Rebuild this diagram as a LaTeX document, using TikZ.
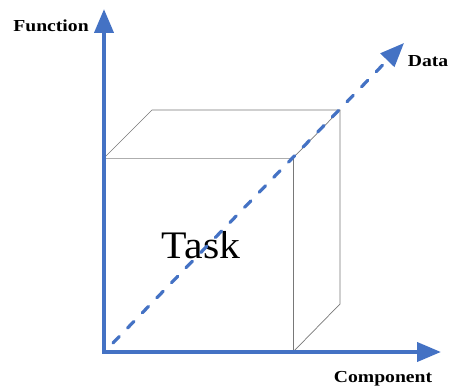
\documentclass[tikz,border=0pt]{standalone}
\usepackage{fontspec}
\setmainfont{Liberation Serif}
\newfontfamily\lblfont[FakeStretch=1.17]{Liberation Serif}
\newfontfamily\taskfont[FakeStretch=1.07]{Liberation Serif}
\usetikzlibrary{arrows.meta,calc}
\definecolor{axisblue}{RGB}{68,114,196}
\definecolor{cubegray}{RGB}{120,120,120}
\begin{document}
\begin{tikzpicture}[x=1pt,y=-1pt,
  axis/.style={line width=4pt,draw=axisblue,-{Triangle[length=24pt,width=19pt]}},
  datadash/.style={line width=3.2pt,draw=axisblue,line cap=round,dash pattern=on 9pt off 12pt,-{Triangle[length=24pt,width=19pt]}},
  edge/.style={draw=cubegray,line width=0.7pt},
  lbl/.style={font=\lblfont\bfseries\fontsize{16.8}{19}\selectfont,inner sep=0pt}]
\useasboundingbox (0,0) rectangle (449,390);
\coordinate (O) at (104,352);
\coordinate (fy) at (104,9);
\coordinate (cx) at (441,352);
\coordinate (dt) at (404,43);
% cube
\coordinate (A) at (104,158);
\coordinate (B) at (293,158);
\coordinate (C) at (293,352);
\coordinate (A2) at (152,110);
\coordinate (B2) at (340,110);
\coordinate (C2) at (340,304);
\draw[edge] (A) -- (A2) -- (B2) -- (C2) -- (C);
\draw[edge] (B) -- (B2);
\draw[edge] (B) -- (C);
\draw[draw=cubegray!60,line width=0.9pt] (A) -- (B);
\draw[edge] (A) -- (O);
\node[font=\taskfont\fontsize{39}{42}\selectfont,inner sep=0pt] (task) at (201,245) {Task};
% data dashed arrow
\draw[datadash] ($(O)+(9,-9)$) -- (dt);
% axes
\draw[axis] (O) -- (fy);
\draw[axis] ([xshift=-2pt]O) -- (cx);
\node[lbl] (function) at (51,26) {Function};
\node[lbl] (data) at (428,61) {Data};
\node[lbl] (component) at (383,379) {Component};
\end{tikzpicture}
\end{document}
